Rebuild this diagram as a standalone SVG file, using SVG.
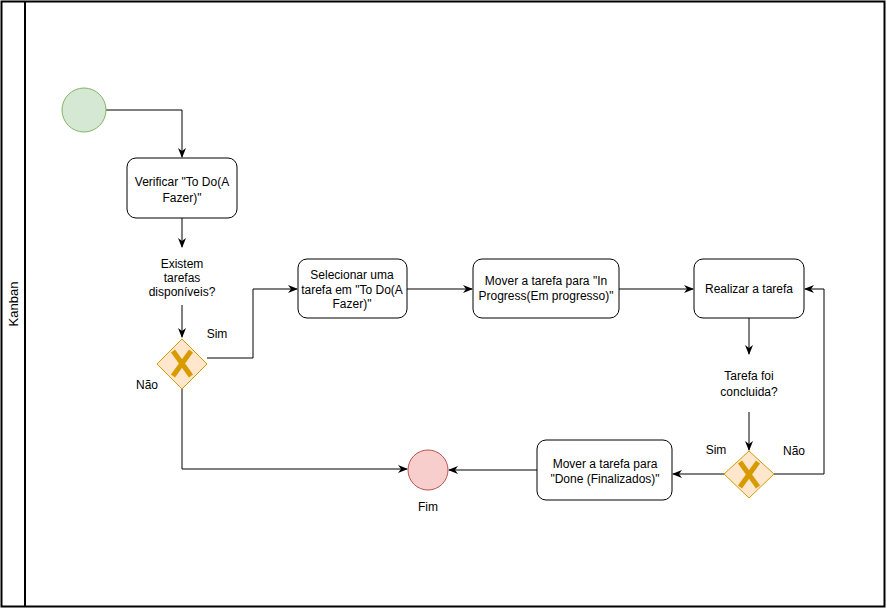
<svg xmlns="http://www.w3.org/2000/svg" width="887" height="609" viewBox="0 0 887 609">
  <style>
    text { font-family: "Liberation Sans", Arial, sans-serif; font-size: 12px; fill: #000; text-anchor: middle; }
    .task { fill: #fff; stroke: #000; stroke-width: 1; }
    .edge { fill: none; stroke: #000; stroke-width: 1; }
    .gw { fill: #ffe6cc; stroke: #d79b00; stroke-width: 1; }
    .gwx { stroke: #d79b00; stroke-width: 5; stroke-linecap: butt; }
  </style>
  <defs>
    <marker id="arrow" viewBox="0 0 10 10" refX="9" refY="5" markerWidth="10" markerHeight="10" markerUnits="userSpaceOnUse" orient="auto">
      <path d="M0,1 L10,5 L0,9 L3,5 Z" fill="#000"/>
    </marker>
  </defs>
  <rect width="887" height="609" fill="#fff"/>

  <!-- pool with lane header -->
  <g id="pool">
    <rect x="1.5" y="1.5" width="883" height="605" fill="none" stroke="#000" stroke-width="2"/>
    <line x1="25" y1="1.5" x2="25" y2="606.5" stroke="#000" stroke-width="2"/>
    <text transform="translate(18,304) rotate(-90)" style="font-size:13px">Kanban</text>
  </g>

  <!-- connectors -->
  <g id="connectors">
    <path class="edge" d="M106,110 H182 V157" marker-end="url(#arrow)"/>
    <path class="edge" d="M182,218 V247" marker-end="url(#arrow)"/>
    <path class="edge" d="M182,305 V337" marker-end="url(#arrow)"/>
    <path class="edge" d="M207,358 H253 V289 H297" marker-end="url(#arrow)"/>
    <path class="edge" d="M182,389 V469 H407" marker-end="url(#arrow)"/>
    <path class="edge" d="M407,289 H472" marker-end="url(#arrow)"/>
    <path class="edge" d="M619,289 H693" marker-end="url(#arrow)"/>
    <path class="edge" d="M749,318 V354" marker-end="url(#arrow)"/>
    <path class="edge" d="M749,412 V450" marker-end="url(#arrow)"/>
    <path class="edge" d="M774,474 H824 V289 H805" marker-end="url(#arrow)"/>
    <path class="edge" d="M724,474 H673" marker-end="url(#arrow)"/>
    <path class="edge" d="M537,470 H449" marker-end="url(#arrow)"/>
    <text x="217" y="338">Sim</text>
    <text x="147" y="389">Não</text>
    <text x="716" y="454">Sim</text>
    <text x="794" y="455">Não</text>
  </g>

  <g id="start">
    <circle cx="84" cy="110" r="22" fill="#d5e8d4" stroke="#82b366"/>
  </g>

  <g id="verificar">
    <rect class="task" x="127" y="158" width="110" height="60" rx="9"/>
    <text x="182" y="186">Verificar "To Do(A</text>
    <text x="182" y="202">Fazer)"</text>
  </g>

  <g id="pergunta-tarefas">
    <text x="182" y="268">Existem</text>
    <text x="182" y="282">tarefas</text>
    <text x="182" y="296">disponíveis?</text>
  </g>

  <g id="gateway-tarefas">
    <polygon class="gw" points="182,339 207,364 182,389 157,364"/>
    <line class="gwx" x1="173" y1="351" x2="191" y2="376"/>
    <line class="gwx" x1="191" y1="351" x2="173" y2="376"/>
  </g>

  <g id="selecionar">
    <rect class="task" x="298" y="259" width="109" height="59" rx="9"/>
    <text x="352" y="279">Selecionar uma</text>
    <text x="352" y="294">tarefa em "To Do(A</text>
    <text x="352" y="308">Fazer)"</text>
  </g>

  <g id="mover-progresso">
    <rect class="task" x="473" y="259" width="146" height="59" rx="9"/>
    <text x="546" y="285">Mover a tarefa para "In</text>
    <text x="546" y="300">Progress(Em progresso)"</text>
  </g>

  <g id="realizar">
    <rect class="task" x="694" y="259" width="110" height="59" rx="9"/>
    <text x="749" y="293">Realizar a tarefa</text>
  </g>

  <g id="pergunta-concluida">
    <text x="749" y="380">Tarefa foi</text>
    <text x="749" y="396">concluida?</text>
  </g>

  <g id="gateway-concluida">
    <polygon class="gw" points="749,451 774,474 749,498 724,474"/>
    <line class="gwx" x1="740" y1="462" x2="758" y2="487"/>
    <line class="gwx" x1="758" y1="462" x2="740" y2="487"/>
  </g>

  <g id="mover-done">
    <rect class="task" x="537" y="440" width="135" height="60" rx="9"/>
    <text x="605" y="468">Mover a tarefa para</text>
    <text x="605" y="483">"Done (Finalizados)"</text>
  </g>

  <g id="fim">
    <circle cx="428" cy="470" r="20" fill="#f8cecc" stroke="#b85450"/>
    <text x="428" y="511">Fim</text>
  </g>
</svg>
